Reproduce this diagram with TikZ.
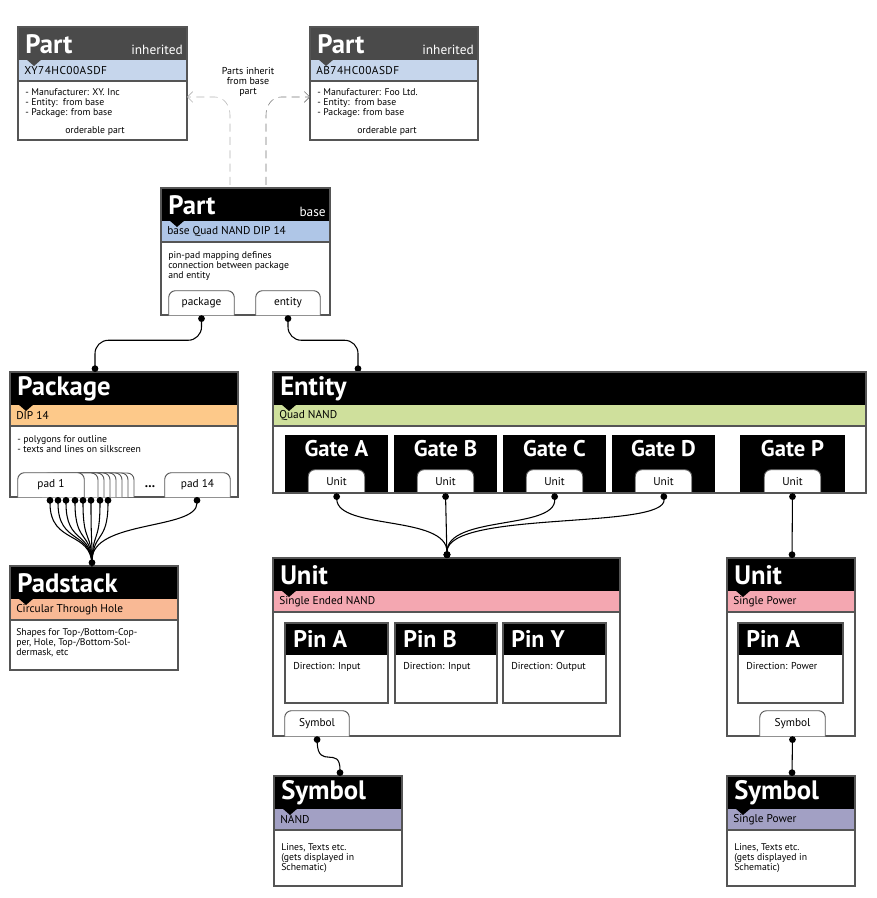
\documentclass[tikz,border=0pt]{standalone}
\usepackage{fontspec}
\setmainfont{PT Sans}
\usetikzlibrary{arrows.meta}
\definecolor{hdgray}{HTML}{4A4A4A}
\definecolor{bluei}{HTML}{C6D6EC}
\definecolor{blueb}{HTML}{AFC6E7}
\definecolor{pkgc}{HTML}{FDC98A}
\definecolor{padc}{HTML}{F9B995}
\definecolor{entc}{HTML}{CFE09C}
\definecolor{unitc}{HTML}{F4A7B1}
\definecolor{symc}{HTML}{A2A0C4}
\definecolor{frame}{HTML}{555555}
\tikzset{
 boxline/.style={draw=frame,line width=0.8pt},
 title/.style={anchor=west,text=white,font=\bfseries\fontsize{20}{20}\selectfont,inner sep=0},
 gtitle/.style={anchor=north,text=white,font=\bfseries\fontsize{17}{17}\selectfont,inner sep=0},
 tag/.style={anchor=east,text=white,font=\fontsize{10}{10}\selectfont,inner sep=0},
 band/.style={anchor=west,font=\fontsize{8.5}{9}\selectfont,inner sep=0},
 body/.style={anchor=north west,align=left,font=\fontsize{7.3}{7.6}\selectfont,inner sep=0},
 tabn/.style={font=\fontsize{8.5}{9}\selectfont,inner sep=0},
 conn/.style={line width=0.8pt,{Circle[length=5pt]}-{Circle[length=5pt]}},
}
\newcommand\ubox[9]{%
 \fill[white] (#2,#3) rectangle (#4,#5);
 \fill[#6] (#2,#3) rectangle (#4,#3+33);
 \fill[#7] (#2,#3+33) rectangle (#4,#3+54);
 \draw[boxline] (#2,#3+54) -- (#4,#3+54);
 \fill[#6] (#2+8,#3+32) -- (#2+24,#3+32) -- (#2+16,#3+39) -- cycle;
 \draw[boxline] (#2,#3) rectangle (#4,#5);
 \node[title] (#1-t) at (#2+7,#3+17) {#8};
 \node[band] (#1-b) at (#2+6,#3+44) {#9};
 \path (#2,#3) coordinate (#1-nw) (#4,#5) coordinate (#1-se);
}
% name, x1, y1, x2, y2, text
\newcommand\utab[6]{%
 \pgfmathsetmacro\tw{(#4-#2)*0.75}\pgfmathsetmacro\th{(#5-#3)*0.75}%
 \pgfmathsetmacro\tcx{(#2+#4)/2}\pgfmathsetmacro\tcy{(#3+#5)/2}%
 \node[tabn,minimum width=\tw pt,minimum height=\th pt] (#1) at (\tcx,\tcy) {};
 \draw[frame,line width=0.7pt,fill=white,rounded corners=5pt] (#1.south west) -- (#1.north west) -- (#1.north east) -- (#1.south east);
 \node[tabn] (#1-l) at (#1.center) {#6};
}
\newcommand\gate[4]{% name,x1,x2,title
 \fill (#2,435) rectangle (#3,493);
 \pgfmathsetmacro\gl{(#2+#3)/2-28}\pgfmathsetmacro\gr{(#2+#3)/2+28}%
 \node[gtitle] (#1-t) at ({(#2+#3)/2},440) {#4};
 \utab{#1}{\gl}{470}{\gr}{493}{Unit}
}
\newcommand\pin[5]{% name,x1,x2,title,dir
 \draw[boxline,fill=white] (#2,623) rectangle (#3,703);
 \fill (#2,623) rectangle (#3,655);
 \draw[boxline] (#2,623) rectangle (#3,703);
 \node[title,font=\bfseries\fontsize{18}{18}\selectfont] (#1-t) at (#2+8,639) {#4};
 \node[body,font=\fontsize{7.5}{8}\selectfont] (#1-d) at (#2+8,662) {#5};
}
\begin{document}
\begin{tikzpicture}[x=0.75pt,y=-0.75pt]
\useasboundingbox (0,0) rectangle (876,898);
% inherited parts
\ubox{pl}{18}{27}{187}{140}{hdgray}{bluei}{Part}{\addfontfeature{LetterSpace=4}XY74HC00ASDF}
\node[tag] (pl-g) at (183,50) {inherited};
\node[body] (pl-x) at (25,88) {- Manufacturer: XY. Inc\\- Entity:\ \ from base\\- Package: from base};
\node[body] (pl-o) at (65,126) {orderable part};
\ubox{pr}{310}{27}{478}{140}{hdgray}{bluei}{Part}{\addfontfeature{LetterSpace=4}AB74HC00ASDF}
\node[tag] (pr-g) at (474,50) {inherited};
\node[body] (pr-x) at (317,88) {- Manufacturer: Foo Ltd.\\- Entity:\ \ from base\\- Package: from base};
\node[body] (pr-o) at (357,126) {orderable part};
% base part
\ubox{pb}{161}{188}{330}{315}{black}{blueb}{Part}{base Quad NAND DIP 14}
\node[tag] (pb-g) at (326,212) {base};
\node[body] (pb-x) at (168,251) {pin-pad mapping defines\\connection between package\\and entity};
\utab{tpkg}{169}{291}{234}{315}{package}
\utab{tent}{256}{291}{320}{315}{entity}
\node[align=center,font=\fontsize{7.5}{7.8}\selectfont,inner sep=0] (inh) at (248,82) {Parts inherit\\from base\\part};
\coordinate (bl) at (230,185); \coordinate (br) at (266,185);
\draw[gray!60,dash pattern=on 6pt off 4pt,-{Straight Barb[length=4pt]}] (bl) -- (230,115) to[out=90,in=0] (215,97) -- (pl-se |- 0,97);
\draw[gray!90!black,dash pattern=on 6pt off 4pt,-{Straight Barb[length=4pt]}] (br) -- (266,115) to[out=90,in=180] (281,97) -- (pr-nw |- 0,97);
% package
\ubox{pk}{10}{372}{238}{497}{black}{pkgc}{Package}{DIP 14}
\node[body] (pk-x) at (17,435) {- polygons for outline\\- texts and lines on silkscreen};
\foreach \xx in {128,122,116,110,104,98,92}{
 \draw[frame,line width=0.7pt,fill=white,rounded corners=5pt] (\xx-50,497) -- (\xx-50,473) -- (\xx+6,473) -- (\xx+6,497);
}
\utab{pad1}{18}{473}{84}{497}{pad 1}
\node[font=\bfseries\fontsize{10}{10}\selectfont,inner sep=0] (dots) at (150,487) {...};
\utab{pad14}{165}{473}{230}{497}{pad 14}
\ubox{ps}{10}{566}{178}{670}{black}{padc}{Padstack}{Circular Through Hole}
\node[body] (ps-x) at (16,628) {Shapes for Top-/Bottom-Cop-\\per, Hole, Top-/Bottom-Sol-\\dermask, etc};
\coordinate (psin) at (92,566);
\foreach \xx in {50,58,66,75,83,91,100,108}{
 \coordinate (pp) at (\xx,497);
 \draw[line width=0.8pt,{Circle[length=5pt]}-] (pp) .. controls (\xx,545) and (92,530) .. (psin);
}
\coordinate (p14) at (197,497);
\draw[line width=0.8pt,{Circle[length=5pt]}-{Circle[length=5pt]}] (p14) .. controls (197,530) and (92,520) .. (psin);
\draw[conn,rounded corners=10pt] (tpkg.south) -- ++(0,25) -| (95,372);
\draw[conn,rounded corners=10pt] (tent.south) -- ++(0,25) -| (358,372);
% entity
\ubox{en}{273}{372}{866}{493}{black}{entc}{Entity}{Quad NAND}
\gate{ga}{285}{388}{Gate A}
\gate{gb}{394}{497}{Gate B}
\gate{gc}{503}{606}{Gate C}
\gate{gd}{612}{715}{Gate D}
\gate{gp}{740}{845}{Gate P}
\draw[boxline] (273,493) -- (866,493);
% units
\ubox{ul}{273}{558}{620}{736}{black}{unitc}{Unit}{Single Ended NAND}
\coordinate (uin) at (447,558);
\draw[conn] (ga.south) .. controls (338,530) and (447,515) .. (uin);
\draw[conn] (gb.south) -- (uin);
\draw[conn] (gc.south) .. controls (556,530) and (447,515) .. (uin);
\draw[conn] (gd.south) .. controls (667,530) and (447,510) .. (uin);
\pin{pa}{285}{388}{Pin A}{Direction: Input}
\pin{pbb}{395}{497}{Pin B}{Direction: Input}
\pin{py}{503}{606}{Pin Y}{Direction: Output}
\utab{tsl}{285}{711}{349}{736}{Symbol}
\ubox{ur}{727}{558}{855}{736}{black}{unitc}{Unit}{Single Power}
\draw[conn] (gp.south) -- (792,558);
\pin{pp2}{738}{843}{Pin A}{Direction: Power}
\utab{tsr}{760}{711}{825}{736}{Symbol}
% symbols
\ubox{sl}{274}{776}{402}{886}{black}{symc}{Symbol}{NAND}
\node[body] (sl-x) at (281,843) {Lines, Texts etc.\\(gets displayed in\\Schematic)};
\draw[conn] (tsl.south) .. controls (318,770) and (340,745) .. (340,776);
\ubox{sr}{727}{776}{855}{886}{black}{symc}{Symbol}{Single Power}
\node[body] (sr-x) at (734,843) {Lines, Texts etc.\\(gets displayed in\\Schematic)};
\draw[conn] (tsr.south) -- (792,776);
\end{tikzpicture}
\end{document}
